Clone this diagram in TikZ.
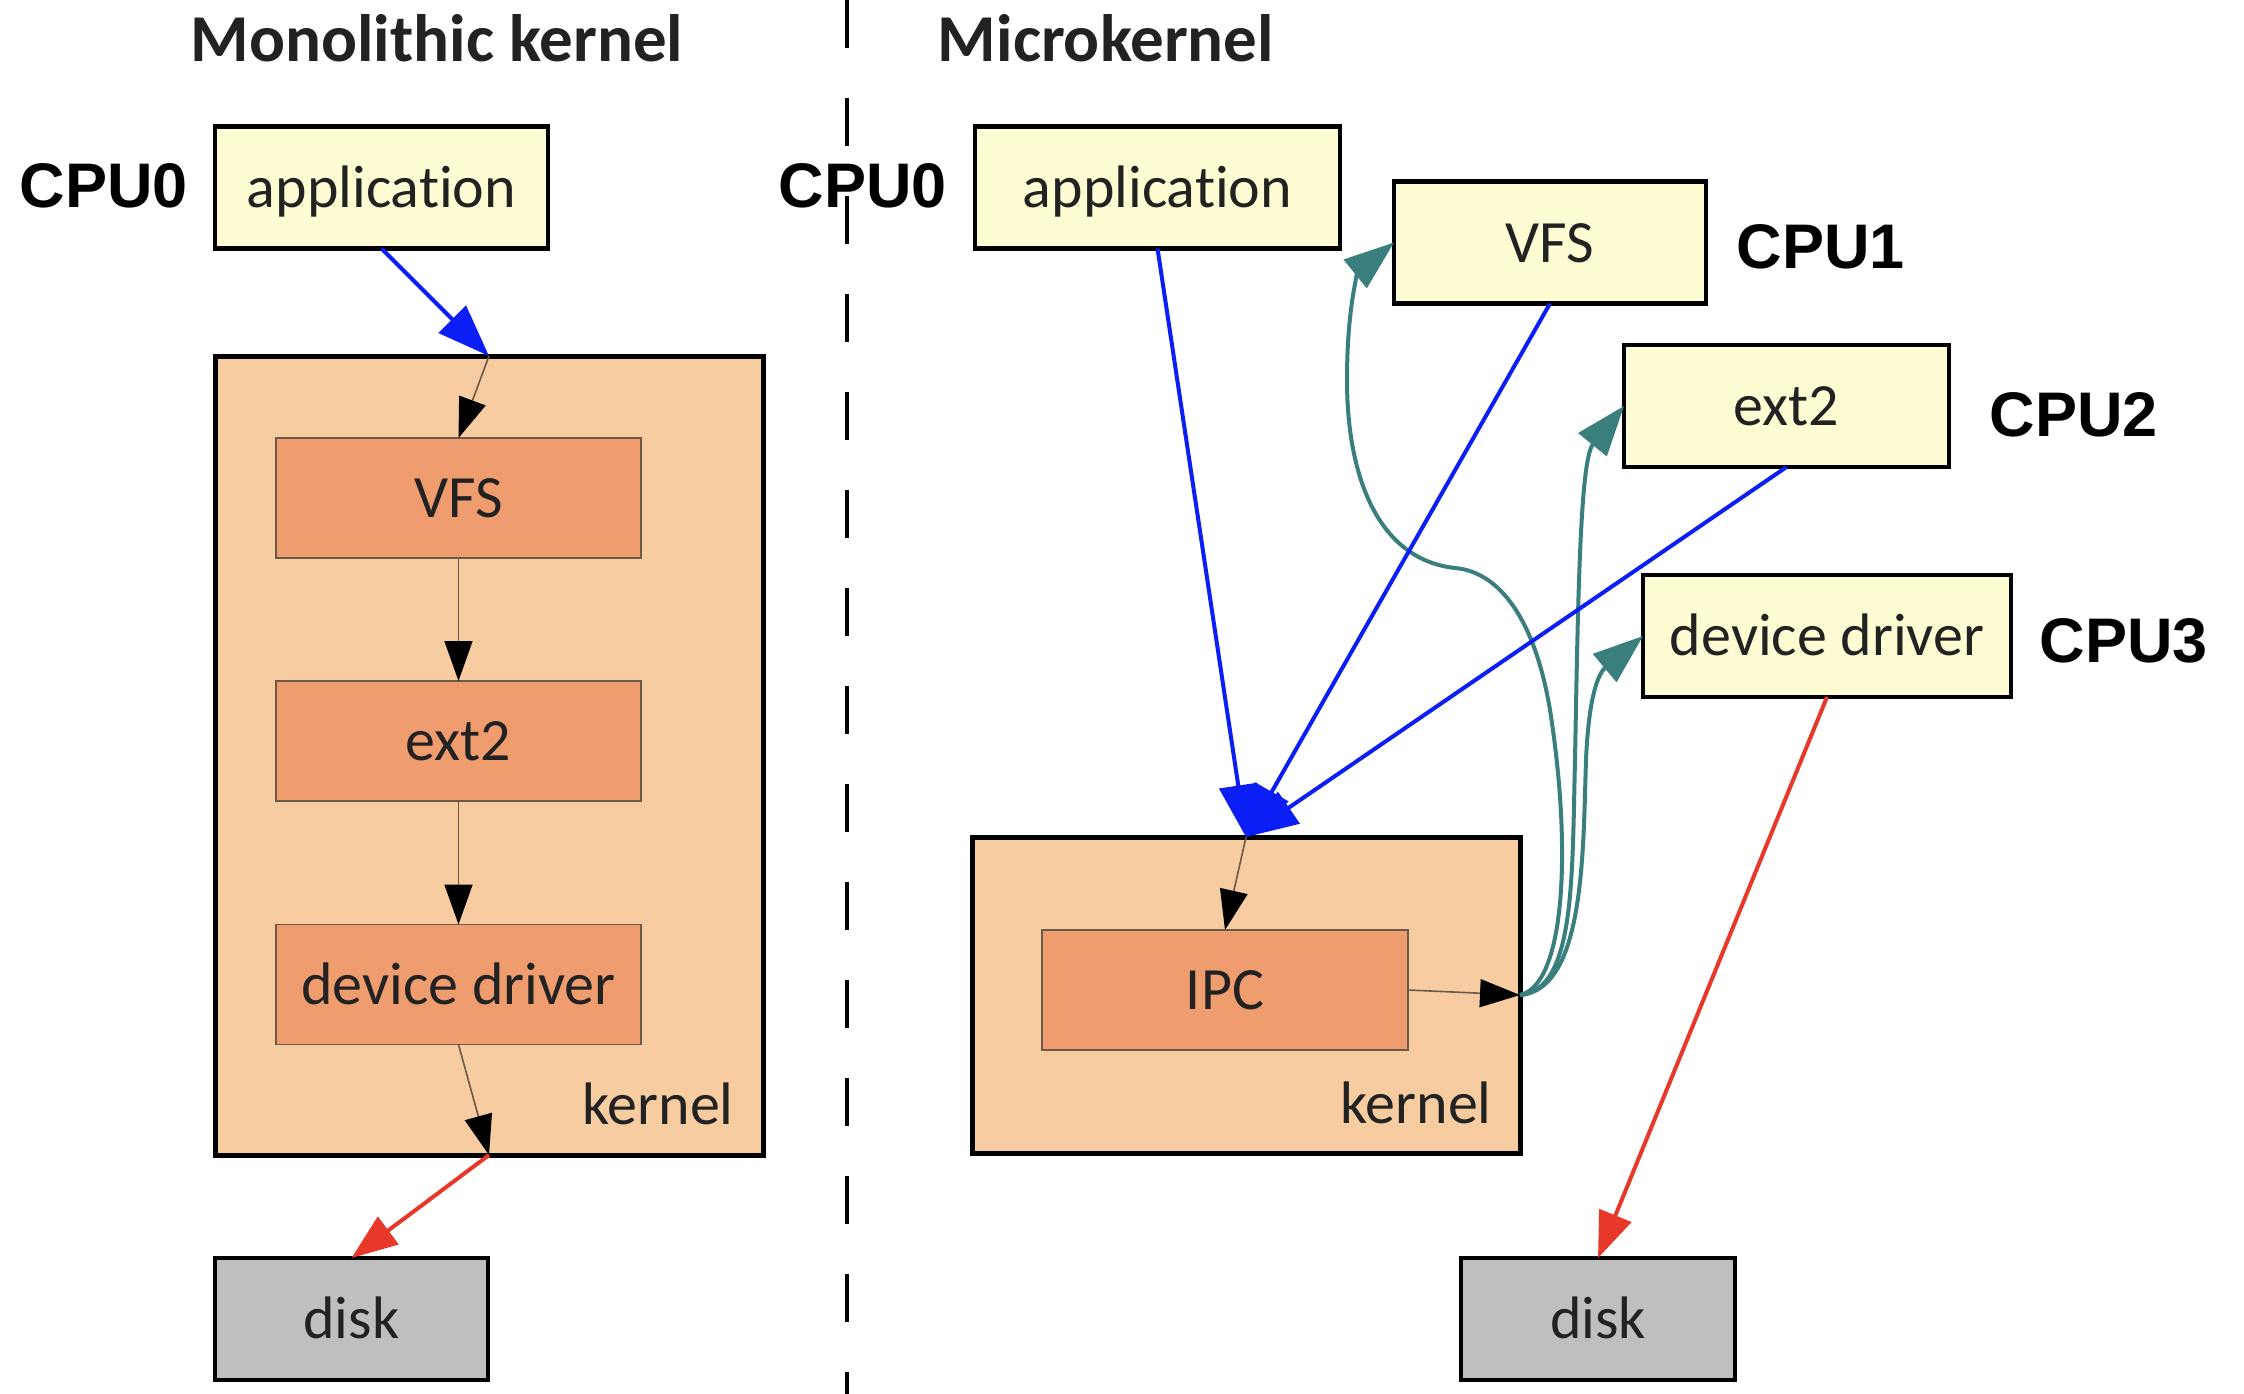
\documentclass[tikz,border=0pt]{standalone}
\usepackage{fontspec}
\setmainfont{Carlito}[Ligatures={NoCommon}]
\newfontfamily\cpufont{Liberation Sans}
\usetikzlibrary{arrows.meta}
\definecolor{appyellow}{HTML}{FEFCD2}
\definecolor{kernpeach}{HTML}{F6CCA0}
\definecolor{modsalmon}{HTML}{EF9C6F}
\definecolor{diskgray}{HTML}{BFBFBF}
\definecolor{ipcteal}{HTML}{3A7F7E}
\definecolor{callblue}{HTML}{0A1EF5}
\definecolor{iored}{HTML}{E8382A}
\definecolor{txt}{HTML}{222222}
\definecolor{thinline}{HTML}{6B5A4A}
\begin{document}
\begin{tikzpicture}[x=1pt,y=-1pt,
  boxtext/.style={font=\fontsize{60}{72}\selectfont,text=txt,text height=39pt,text depth=0pt,inner sep=0pt,outer sep=0pt},
  appbox/.style={boxtext,draw=black,line width=4.5pt,fill=appyellow,minimum height=122pt},
  kernbox/.style={draw=black,line width=5pt,fill=kernpeach,inner sep=0pt,outer sep=0pt},
  modbox/.style={boxtext,draw=thinline,line width=1.8pt,fill=modsalmon,minimum width=365pt,minimum height=120pt},
  diskbox/.style={boxtext,draw=black,line width=4.5pt,fill=diskgray,minimum width=274pt,minimum height=122pt},
  cpulabel/.style={font=\cpufont\bfseries\fontsize{63}{75}\selectfont,text=black,inner sep=0pt,text height=45pt,text depth=0pt},
  titlelabel/.style={font=\bfseries\fontsize{67}{80}\selectfont,text=txt,inner sep=0pt,text height=43pt,text depth=0pt},
  kernlabel/.style={font=\fontsize{60}{72}\selectfont,text=txt,inner sep=0pt,text height=41pt,text depth=0pt},
  inner/.style={draw=thinline,line width=1.6pt,-{Triangle[length=40pt,width=28pt,black]}},
  callarrow/.style={draw=callblue,line width=4pt,-{Triangle[length=52pt,width=38pt]}},
  ioarrow/.style={draw=iored,line width=4pt,-{Triangle[length=46pt,width=34pt]}},
  ipcarrow/.style={draw=ipcteal,line width=4pt,-{Triangle[length=50pt,width=36pt]}}
]
\useasboundingbox[fill=white] (0,0) rectangle (2244,1394);

% divider
\coordinate (divtop) at (847,0);
\coordinate (divbot) at (847,1394);
\draw[line width=4pt,dash pattern=on 48pt off 50pt] (divtop) -- (divbot);

% titles
\node[titlelabel] (t1) at (437,40) {Monolithic kernel};
\node[titlelabel] (t2) at (1106,40) {Microkernel};

% ---------- left: monolithic ----------
\node[appbox,minimum width=333pt] (app1) at (381.5,187.5) {application};
\node[cpulabel] (cpu0a) at (104,185) {CPU0};
\node[kernbox,minimum width=548pt,minimum height=799pt] (k1) at (489,755.5) {};
\node[modbox] (vfs1) at (458.5,498) {VFS};
\node[modbox] (ext1) at (458.5,741) {ext2};
\node[modbox] (dd1) at (458.5,984.5) {device driver};
\node[kernlabel] (kl1) at (658,1104) {kernel};
\node[diskbox,minimum width=273pt] (disk1) at (351.5,1319) {disk};

\draw[callarrow] (app1.south) -- (k1.north);
\draw[inner] (k1.north) -- (vfs1.north);
\draw[inner] (vfs1.south) -- (ext1.north);
\draw[inner] (ext1.south) -- (dd1.north);
\draw[inner] (dd1.south) -- (k1.south);
\draw[ioarrow] (k1.south) -- (disk1.north);

% ---------- right: microkernel ----------
\node[cpulabel] (cpu0b) at (863,185) {CPU0};
\node[appbox,minimum width=365pt] (app2) at (1157.5,187.5) {application};
\node[appbox,minimum width=312pt] (vfs2) at (1550,242.5) {VFS};
\node[cpulabel] (cpu1) at (1821,246) {CPU1};
\node[appbox,minimum width=325pt] (ext22) at (1786.5,406) {ext2};
\node[cpulabel] (cpu2) at (2074,414) {CPU2};
\node[appbox,minimum width=368pt] (dd2) at (1827,636) {device driver};
\node[cpulabel] (cpu3) at (2124,640) {CPU3};
\node[kernbox,minimum width=548pt,minimum height=316pt] (k2) at (1246,995) {};
\node[modbox,minimum width=366pt] (ipc) at (1225,990) {IPC};
\node[kernlabel] (kl2) at (1416,1103) {kernel};
\node[diskbox] (disk2) at (1598,1319) {disk};

\draw[inner] (k2.north) -- (ipc.north);
\draw[inner] (ipc.east) -- (k2.east);

\draw[ipcarrow] (k2.east) .. controls (1565,985) and (1572,850) .. (1550,710)
  .. controls (1535,620) and (1500,572) .. (1455,568)
  .. controls (1380,560) and (1347,480) .. (1347,380)
  .. controls (1347,300) and (1360,270) .. (vfs2.west);
\draw[ipcarrow] (k2.east) .. controls (1575,990) and (1572,880) .. (1575,760)
  .. controls (1578,600) and (1580,460) .. (ext22.west);
\draw[ipcarrow] (k2.east) .. controls (1585,990) and (1583,850) .. (1586,760)
  .. controls (1589,690) and (1600,672) .. (dd2.west);

\draw[callarrow] (app2.south) -- (k2.north);
\draw[callarrow] (vfs2.south) -- (k2.north);
\draw[callarrow] (ext22.south) -- (k2.north);
\draw[ioarrow] (dd2.south) -- (disk2.north);
\end{tikzpicture}
\end{document}
